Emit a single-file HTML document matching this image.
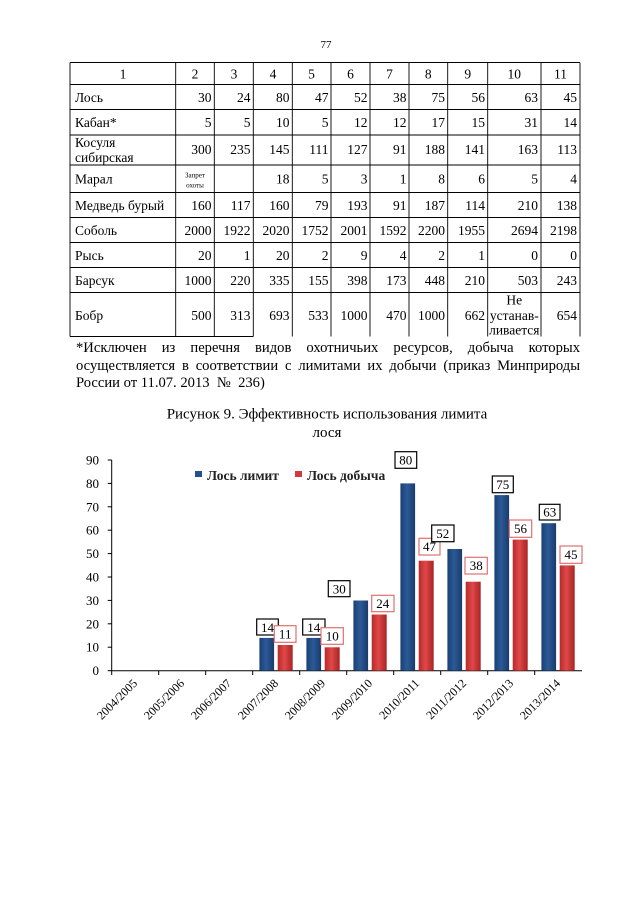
<!DOCTYPE html>
<html><head><meta charset="utf-8"><style>
html,body{margin:0;padding:0;background:#fff;}
body{width:640px;height:905px;position:relative;overflow:hidden;font-family:"Liberation Serif",serif;color:#000;}
.fn{position:absolute;left:76px;width:504px;font-size:14.6px;text-align:justify;text-align-last:justify;white-space:nowrap;line-height:17px;}
</style></head><body>
<svg width="640" height="905" style="position:absolute;left:0;top:0" font-family="Liberation Serif, serif">
<defs>
<linearGradient id="gb" x1="0" x2="1" y1="0" y2="0"><stop offset="0" stop-color="#1a3f73"/><stop offset="0.45" stop-color="#2b5a98"/><stop offset="1" stop-color="#1a3b6b"/></linearGradient>
<linearGradient id="gr" x1="0" x2="1" y1="0" y2="0"><stop offset="0" stop-color="#b82a2a"/><stop offset="0.45" stop-color="#e04848"/><stop offset="1" stop-color="#a82424"/></linearGradient>
</defs>
<text x="326" y="48" font-size="11" text-anchor="middle">77</text>
<g stroke="#000" stroke-width="0.9">
<line x1="70" y1="62.5" x2="580" y2="62.5"/><line x1="70" y1="84.5" x2="580" y2="84.5"/>
<line x1="70" y1="109.5" x2="580" y2="109.5"/><line x1="70" y1="135" x2="580" y2="135"/>
<line x1="70" y1="165" x2="580" y2="165"/><line x1="70" y1="192.5" x2="580" y2="192.5"/>
<line x1="70" y1="217.5" x2="580" y2="217.5"/><line x1="70" y1="242.5" x2="580" y2="242.5"/>
<line x1="70" y1="267.5" x2="580" y2="267.5"/><line x1="70" y1="292.5" x2="580" y2="292.5"/>
<line x1="70" y1="336.5" x2="253.3" y2="336.5"/>
<line x1="70" y1="62.5" x2="70" y2="336.5"/><line x1="175.7" y1="62.5" x2="175.7" y2="336.5"/>
<line x1="214.3" y1="62.5" x2="214.3" y2="336.5"/><line x1="253.3" y1="62.5" x2="253.3" y2="336.5"/>
<line x1="292.3" y1="62.5" x2="292.3" y2="336.5"/><line x1="331" y1="62.5" x2="331" y2="336.5"/>
<line x1="370" y1="62.5" x2="370" y2="336.5"/><line x1="409" y1="62.5" x2="409" y2="336.5"/>
<line x1="447.7" y1="62.5" x2="447.7" y2="336.5"/><line x1="487.7" y1="62.5" x2="487.7" y2="336.5"/>
<line x1="541" y1="62.5" x2="541" y2="336.5"/><line x1="580" y1="62.5" x2="580" y2="336.5"/>
</g>
<g font-size="13.5" text-anchor="middle">
<text x="123" y="78.5">1</text><text x="195" y="78.5">2</text><text x="234" y="78.5">3</text><text x="273" y="78.5">4</text><text x="311.5" y="78.5">5</text><text x="350.5" y="78.5">6</text><text x="389.5" y="78.5">7</text><text x="428.3" y="78.5">8</text><text x="467.7" y="78.5">9</text><text x="514.3" y="78.5">10</text><text x="560.5" y="78.5">11</text>
</g>
<g font-size="13.5">
<text x="75" y="101.8">Лось</text><text x="75" y="126.8">Кабан*</text><text x="75" y="147.2">Косуля</text><text x="75" y="162.2">сибирская</text><text x="75" y="183.5">Марал</text><text x="75" y="209.8">Медведь бурый</text><text x="75" y="234.8">Соболь</text><text x="75" y="259.8">Рысь</text><text x="75" y="284.8">Барсук</text><text x="75" y="319.8">Бобр</text>
</g>
<g font-size="13.5" text-anchor="end">
<g transform="translate(0,101.8)"><text x="211.5">30</text><text x="250.5">24</text><text x="289.5">80</text><text x="328.5">47</text><text x="367.5">52</text><text x="406.5">38</text><text x="445">75</text><text x="485">56</text><text x="538">63</text><text x="577">45</text></g>
<g transform="translate(0,126.8)"><text x="211.5">5</text><text x="250.5">5</text><text x="289.5">10</text><text x="328.5">5</text><text x="367.5">12</text><text x="406.5">12</text><text x="445">17</text><text x="485">15</text><text x="538">31</text><text x="577">14</text></g>
<g transform="translate(0,153.8)"><text x="211.5">300</text><text x="250.5">235</text><text x="289.5">145</text><text x="328.5">111</text><text x="367.5">127</text><text x="406.5">91</text><text x="445">188</text><text x="485">141</text><text x="538">163</text><text x="577">113</text></g>
<g transform="translate(0,183.5)"><text x="289.5">18</text><text x="328.5">5</text><text x="367.5">3</text><text x="406.5">1</text><text x="445">8</text><text x="485">6</text><text x="538">5</text><text x="577">4</text></g>
<g transform="translate(0,209.8)"><text x="211.5">160</text><text x="250.5">117</text><text x="289.5">160</text><text x="328.5">79</text><text x="367.5">193</text><text x="406.5">91</text><text x="445">187</text><text x="485">114</text><text x="538">210</text><text x="577">138</text></g>
<g transform="translate(0,234.8)"><text x="211.5">2000</text><text x="250.5">1922</text><text x="289.5">2020</text><text x="328.5">1752</text><text x="367.5">2001</text><text x="406.5">1592</text><text x="445">2200</text><text x="485">1955</text><text x="538">2694</text><text x="577">2198</text></g>
<g transform="translate(0,259.8)"><text x="211.5">20</text><text x="250.5">1</text><text x="289.5">20</text><text x="328.5">2</text><text x="367.5">9</text><text x="406.5">4</text><text x="445">2</text><text x="485">1</text><text x="538">0</text><text x="577">0</text></g>
<g transform="translate(0,284.8)"><text x="211.5">1000</text><text x="250.5">220</text><text x="289.5">335</text><text x="328.5">155</text><text x="367.5">398</text><text x="406.5">173</text><text x="445">448</text><text x="485">210</text><text x="538">503</text><text x="577">243</text></g>
<g transform="translate(0,319.8)"><text x="211.5">500</text><text x="250.5">313</text><text x="289.5">693</text><text x="328.5">533</text><text x="367.5">1000</text><text x="406.5">470</text><text x="445">1000</text><text x="485">662</text><text x="577">654</text></g>
</g>
<g font-size="7" text-anchor="middle"><text x="195" y="177.5">Запрет</text><text x="195" y="187.5">охоты</text></g>
<g font-size="13.5" text-anchor="middle"><text x="514.3" y="304.5">Не</text><text x="514.3" y="319.8">устанав-</text><text x="514.3" y="334.5">ливается</text></g>

<g font-size="15" text-anchor="middle"><text x="327" y="418.5">Рисунок 9. Эффективность использования лимита</text><text x="327" y="437">лося</text></g>

<g font-size="13" text-anchor="end">
<text x="99" y="464.5">90</text><text x="99" y="487.9">80</text><text x="99" y="511.3">70</text><text x="99" y="534.7">60</text><text x="99" y="558.1">50</text><text x="99" y="581.5">40</text><text x="99" y="604.9">30</text><text x="99" y="628.3">20</text><text x="99" y="651.7">10</text><text x="99" y="675.1">0</text>
</g>
<g stroke="#000" stroke-width="1">
<line x1="111.7" y1="460" x2="111.7" y2="675"/><line x1="111.7" y1="670.7" x2="582" y2="670.7"/>
<line x1="107.7" y1="460" x2="111.7" y2="460"/><line x1="107.7" y1="483.4" x2="111.7" y2="483.4"/><line x1="107.7" y1="506.8" x2="111.7" y2="506.8"/><line x1="107.7" y1="530.2" x2="111.7" y2="530.2"/><line x1="107.7" y1="553.6" x2="111.7" y2="553.6"/><line x1="107.7" y1="577" x2="111.7" y2="577"/><line x1="107.7" y1="600.4" x2="111.7" y2="600.4"/><line x1="107.7" y1="623.8" x2="111.7" y2="623.8"/><line x1="107.7" y1="647.2" x2="111.7" y2="647.2"/><line x1="107.7" y1="670.7" x2="111.7" y2="670.7"/>
<line x1="158.7" y1="670.7" x2="158.7" y2="675"/><line x1="205.7" y1="670.7" x2="205.7" y2="675"/><line x1="252.7" y1="670.7" x2="252.7" y2="675"/><line x1="299.7" y1="670.7" x2="299.7" y2="675"/><line x1="346.7" y1="670.7" x2="346.7" y2="675"/><line x1="393.7" y1="670.7" x2="393.7" y2="675"/><line x1="440.7" y1="670.7" x2="440.7" y2="675"/><line x1="487.7" y1="670.7" x2="487.7" y2="675"/><line x1="534.7" y1="670.7" x2="534.7" y2="675"/>
</g>
<g>
<rect x="259.4" y="637.9" width="14.7" height="32.8" fill="url(#gb)"/><rect x="277.7" y="645" width="15" height="25.7" fill="url(#gr)"/>
<rect x="306.4" y="637.9" width="14.7" height="32.8" fill="url(#gb)"/><rect x="324.7" y="647.3" width="15" height="23.4" fill="url(#gr)"/>
<rect x="353.4" y="600.5" width="14.7" height="70.2" fill="url(#gb)"/><rect x="371.7" y="614.5" width="15" height="56.2" fill="url(#gr)"/>
<rect x="400.4" y="483.4" width="14.7" height="187.3" fill="url(#gb)"/><rect x="418.7" y="560.7" width="15" height="110" fill="url(#gr)"/>
<rect x="447.4" y="549" width="14.7" height="121.7" fill="url(#gb)"/><rect x="465.7" y="581.7" width="15" height="89" fill="url(#gr)"/>
<rect x="494.4" y="495.1" width="14.7" height="175.6" fill="url(#gb)"/><rect x="512.7" y="539.6" width="15" height="131.1" fill="url(#gr)"/>
<rect x="541.4" y="523.2" width="14.7" height="147.5" fill="url(#gb)"/><rect x="559.7" y="565.4" width="15" height="105.3" fill="url(#gr)"/>
</g>
<rect x="195" y="471" width="7" height="6" fill="#24508c"/><text x="207" y="480" font-size="13.5" font-weight="bold" fill="#222">Лось лимит</text>
<rect x="295" y="471" width="7" height="6" fill="#d03a3a"/><text x="307" y="480" font-size="13.5" font-weight="bold" fill="#222">Лось добыча</text>
<g font-size="13" text-anchor="middle" stroke-width="1.2" fill="#fff">
<rect x="256.7" y="619" width="21.6" height="16" stroke="#000"/><rect x="274.3" y="625.7" width="21.7" height="16.6" stroke="#e07070"/>
<rect x="302.7" y="619" width="22.3" height="16" stroke="#000"/><rect x="321" y="627.7" width="22.3" height="16.6" stroke="#e07070"/>
<rect x="328.3" y="580.7" width="21.7" height="16" stroke="#000"/><rect x="371.7" y="595.3" width="22.3" height="16.4" stroke="#e07070"/>
<rect x="395" y="451.7" width="21.7" height="16.6" stroke="#000"/><rect x="419" y="538.3" width="21" height="16.7" stroke="#e07070"/>
<rect x="431.7" y="525" width="22.3" height="16.7" stroke="#000"/><rect x="465" y="557.3" width="22.3" height="16.7" stroke="#e07070"/>
<rect x="492.3" y="476" width="21" height="16.7" stroke="#000"/><rect x="509.3" y="520" width="22.4" height="17.3" stroke="#e07070"/>
<rect x="539.3" y="504.3" width="20.7" height="15.7" stroke="#000"/><rect x="560" y="546" width="22" height="17.3" stroke="#e07070"/>
</g>
<g font-size="13" text-anchor="middle" fill="#000">
<text x="267.5" y="632">14</text><text x="285.2" y="638.5">11</text>
<text x="313.8" y="632">14</text><text x="332.2" y="640.5">10</text>
<text x="339.2" y="593.5">30</text><text x="382.8" y="608">24</text>
<text x="405.8" y="464.5">80</text><text x="429.5" y="551">47</text>
<text x="442.8" y="538">52</text><text x="476.2" y="570">38</text>
<text x="502.8" y="489">75</text><text x="520.5" y="533">56</text>
<text x="549.7" y="516.5">63</text><text x="571" y="559">45</text>
</g>
<g font-size="12" text-anchor="end">
<text transform="translate(138,684) rotate(-45)">2004/2005</text>
<text transform="translate(185,684) rotate(-45)">2005/2006</text>
<text transform="translate(232,684) rotate(-45)">2006/2007</text>
<text transform="translate(279,684) rotate(-45)">2007/2008</text>
<text transform="translate(326,684) rotate(-45)">2008/2009</text>
<text transform="translate(373,684) rotate(-45)">2009/2010</text>
<text transform="translate(420,684) rotate(-45)">2010/2011</text>
<text transform="translate(467,684) rotate(-45)">2011/2012</text>
<text transform="translate(514,684) rotate(-45)">2012/2013</text>
<text transform="translate(561,684) rotate(-45)">2013/2014</text>
</g>
</svg>
<div class="fn" style="top:340px">*Исключен из перечня видов охотничьих ресурсов, добыча которых</div>
<div class="fn" style="top:358px">осуществляется в соответствии с лимитами их добычи (приказ Минприроды</div>
<div class="fn" style="top:375px;text-align-last:left">России от 11.07. 2013&nbsp; №&nbsp; 236)</div>
</body></html>
